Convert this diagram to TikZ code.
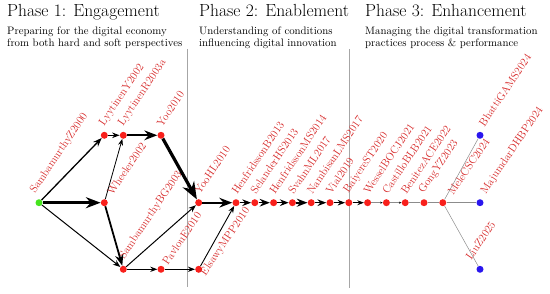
\documentclass[tikz,border=0pt]{standalone}
\usetikzlibrary{arrows.meta}
\definecolor{dotred}{RGB}{248,32,28}
\definecolor{dotgreen}{RGB}{70,228,30}
\definecolor{dotblue}{RGB}{42,22,238}
\definecolor{lblred}{RGB}{214,40,40}

\begin{document}
\begin{tikzpicture}[x=1pt,y=-1pt,
    dot/.style={circle,fill=dotred,inner sep=0pt,minimum size=7pt},
    lbl/.style={rotate=56,anchor=south west,inner sep=0.5pt,
      text=lblred,font=\fontsize{11}{13}\selectfont},
    link/.style={line width=#1,-{Stealth}},
    faint/.style={draw=black!45,line width=0.5pt},
    sep/.style={draw=black!35,line width=0.7pt},
    phase/.style={anchor=base west,inner sep=0pt,font=\fontsize{17.5}{20}\selectfont},
    note/.style={anchor=north west,inner sep=0pt,align=left,font=\fontsize{10.8}{12.7}\selectfont}]
  \useasboundingbox (0,0) rectangle (550,294);

  % phases
  \node[phase] (P1) at (7,17) {Phase 1: Engagement};
  \node[note] (N1) at (7,26.3) {Preparing for the digital economy\\from both hard and soft perspectives};
  \node[phase] (P2) at (199,17) {Phase 2: Enablement};
  \node[note] (N2) at (199,26.3) {Understanding of conditions\\influencing digital innovation};
  \node[phase] (P3) at (365,17) {Phase 3: Enhancement};
  \node[note] (N3) at (365,26.3) {Managing the digital transformation\\practices process \& performance};
  \draw[sep] (187.7,49) -- (187.7,287);
  \draw[sep] (349.3,49) -- (349.3,288);

  % papers
  \node[dot,fill=dotgreen] (SZ) at (39,202.7) {};
  \node[dot] (LY) at (104.3,135.3) {};
  \node[dot] (LR) at (123.3,135.3) {};
  \node[dot] (Y) at (161,135.3) {};
  \node[dot] (W) at (104.3,202.7) {};
  \node[dot] (SB) at (123.3,269.3) {};
  \node[dot] (PE) at (161,269.3) {};
  \node[dot] (EM) at (198.7,269.3) {};
  \node[dot] (YH) at (198.7,202.7) {};
  \node[dot] (HB) at (236,202.7) {};
  \node[dot] (SH) at (254.8,202.7) {};
  \node[dot] (HM) at (273.6,202.7) {};
  \node[dot] (SM) at (292.4,202.7) {};
  \node[dot] (NL) at (311.2,202.7) {};
  \node[dot] (V) at (330,202.7) {};
  \node[dot] (BS) at (348.8,202.7) {};
  \node[dot] (WB) at (367.6,202.7) {};
  \node[dot] (CB) at (386.4,202.7) {};
  \node[dot] (BA) at (405.2,202.7) {};
  \node[dot] (GY) at (424,202.7) {};
  \node[dot] (MC) at (442.8,202.7) {};
  \node[dot,fill=dotblue] (MD) at (480,202.7) {};
  \node[dot,fill=dotblue] (BG) at (480,135.3) {};
  \node[dot,fill=dotblue] (LZ) at (480,269.3) {};

  % names
  \node[lbl] (tSZ) at ([xshift=-1.8pt,yshift=6.8pt]SZ.center) {SambamurthyZ2000};
  \node[lbl] (tLY) at ([xshift=1.8pt,yshift=6.8pt]LY.center) {LyytinenY2002};
  \node[lbl] (tLR) at ([xshift=1.8pt,yshift=6.8pt]LR.center) {LyytinenR2003a};
  \node[lbl] (tY) at ([xshift=1.8pt,yshift=6.8pt]Y.center) {Yoo2010};
  \node[lbl] (tW) at ([xshift=9pt,yshift=6pt]W.center) {Wheeler2002};
  \node[lbl] (tSB) at ([xshift=3pt,yshift=7.5pt]SB.center) {SambamurthyBG2003};
  \node[lbl] (tPE) at ([xshift=7.2pt,yshift=2.2pt]PE.center) {PavlouE2010};
  \node[lbl] (tEM) at ([xshift=9pt,yshift=-9pt]EM.center) {ElsawyMPP2010};
  \node[lbl] (tYH) at ([xshift=1.8pt,yshift=6.8pt]YH.center) {YooHL2010};
  \node[lbl] (tHB) at ([xshift=1.8pt,yshift=6.8pt]HB.center) {HenfridssonB2013};
  \node[lbl] (tSH) at ([xshift=1.8pt,yshift=6.8pt]SH.center) {SelanderHS2013};
  \node[lbl] (tHM) at ([xshift=1.8pt,yshift=6.8pt]HM.center) {HenfridssonMS2014};
  \node[lbl] (tSM) at ([xshift=1.8pt,yshift=6.8pt]SM.center) {SvahnML2017};
  \node[lbl] (tNL) at ([xshift=1.8pt,yshift=6.8pt]NL.center) {NambisanLMS2017};
  \node[lbl] (tV) at ([xshift=1.8pt,yshift=6.8pt]V.center) {Vial2019};
  \node[lbl] (tBS) at ([xshift=1.8pt,yshift=6.8pt]BS.center) {BaiyereST2020};
  \node[lbl] (tWB) at ([xshift=1.8pt,yshift=6.8pt]WB.center) {WesselBOCJ2021};
  \node[lbl] (tCB) at ([xshift=1.8pt,yshift=6.8pt]CB.center) {CastilloBLB2021};
  \node[lbl] (tBA) at ([xshift=1.8pt,yshift=6.8pt]BA.center) {BenitezACE2022};
  \node[lbl] (tGY) at ([xshift=1.8pt,yshift=6.8pt]GY.center) {GongYZ2023};
  \node[lbl] (tMC) at ([xshift=11pt,yshift=5.6pt]MC.center) {MeleCSC2024};
  \node[lbl] (tMD) at ([xshift=8pt,yshift=6pt]MD.center) {MajumdarDHBP2024};
  \node[lbl] (tBG) at ([xshift=5pt,yshift=7pt]BG.center) {BhattiGAMS2024};
  \node[lbl] (tLZ) at ([xshift=-8.3pt,yshift=7.3pt]LZ.center) {LiuZ2025};

  % citations
  \draw[link=1.3pt] (SZ) -- (LY);
  \draw[link=2.6pt] (SZ) -- (W);
  \draw[link=1pt] (SZ) -- (SB);
  \draw[link=1pt] (LY) -- (LR);
  \draw[link=0.8pt] (W) -- (LR);
  \draw[link=1.8pt] (W) -- (SB);
  \draw[link=2.2pt] (LR) -- (Y);
  \draw[link=3.2pt] (Y) -- (YH);
  \draw[link=1pt] (SB) -- (YH);
  \draw[link=0.9pt] (SB) -- (PE);
  \draw[link=0.9pt] (PE) -- (EM);
  \draw[link=0.9pt] (EM) -- (HB);
  \draw[link=2.2pt] (YH) -- (HB);
  \draw[link=1.3pt] (HB) -- (SH);
  \draw[link=1.6pt] (SH) -- (HM);
  \draw[link=1.3pt] (HM) -- (SM);
  \draw[link=1.7pt] (SM) -- (NL);
  \draw[link=1.3pt] (NL) -- (V);
  \draw[link=1pt] (V) -- (BS);
  \draw[link=0.8pt] (BS) -- (WB);
  \draw[faint,-{Stealth[length=2.5pt,width=2pt,black]}] (WB) -- (CB);
  \draw[faint,-{Stealth[length=2.5pt,width=2pt,black]}] (CB) -- (BA);
  \draw[faint] (BA) -- (GY);
  \draw[faint] (GY) -- (MC);
  \draw[faint] (MC) -- (MD);
  \draw[faint] (MC) -- (BG);
  \draw[faint] (MC) -- (LZ);
\end{tikzpicture}
\end{document}
